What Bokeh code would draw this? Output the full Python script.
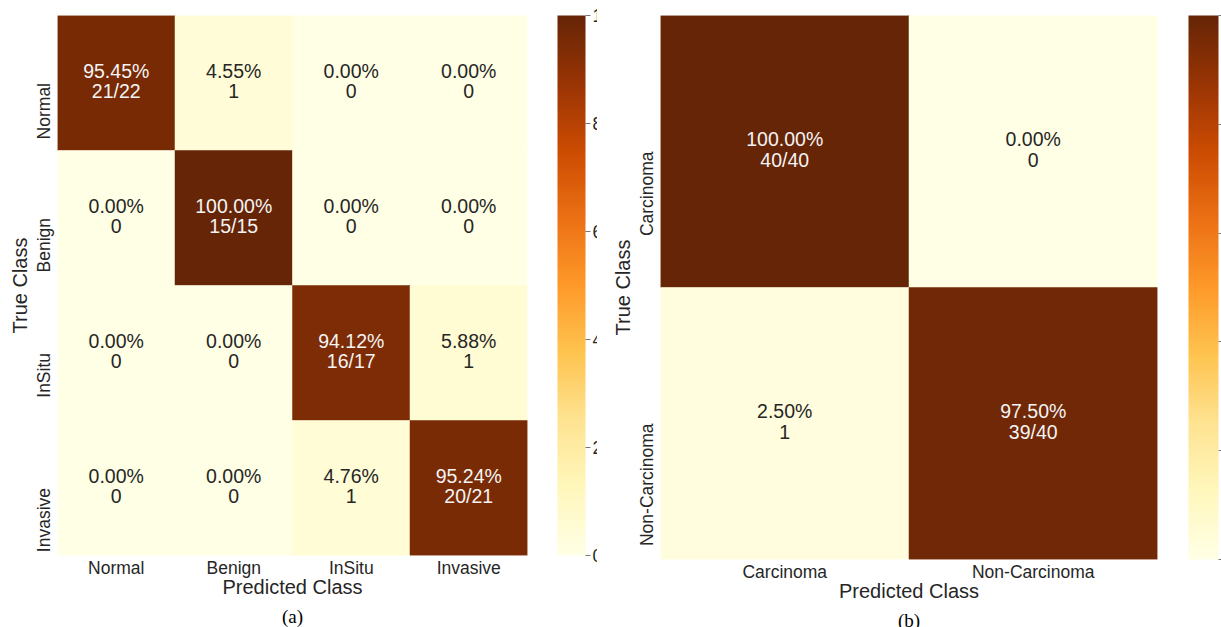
import numpy as np
from bokeh.plotting import figure
from bokeh.models import LinearColorMapper, ColorBar, FixedTicker, Title, ColumnDataSource
from bokeh.layouts import row
from bokeh.embed import file_html
from bokeh.resources import INLINE
from bokeh.core.properties import value

# (a) four-class confusion matrix: rows = true class, columns = predicted class
classes_a = ["Normal", "Benign", "InSitu", "Invasive"]
counts_a = [
    [21, 1, 0, 0],
    [0, 15, 0, 0],
    [0, 0, 16, 1],
    [0, 0, 1, 20],
]

# (b) two-class confusion matrix
classes_b = ["Carcinoma", "Non-Carcinoma"]
counts_b = [
    [40, 0],
    [1, 39],
]

# colour bar ticks (percent)
cbar_ticks = [0, 20, 40, 60, 80, 100]

# YlOrBr, light to dark
YLORBR = ["#ffffe5", "#fff7bc", "#fee391", "#fec44f", "#fe9929",
          "#ec7014", "#cc4c02", "#993404", "#662506"]


def ramp(colors, n=256):
    rgb = np.array([[int(c[k:k + 2], 16) for k in (1, 3, 5)] for c in colors], float)
    out = []
    for v in np.linspace(0, len(colors) - 1, n):
        i = min(int(v), len(colors) - 2)
        f = v - i
        c = rgb[i] * (1 - f) + rgb[i + 1] * f
        out.append("#%02x%02x%02x" % tuple(int(round(x)) for x in c))
    return out


PALETTE = ramp(YLORBR)
SANS = "Liberation Sans"
DARK = "#262626"


def confusion_panel(classes, counts, fw, fh, left, right, top, bottom,
                    cb_gap, cb_width, caption, cap_standoff):
    xs, ys, pct, labels, tcolors = [], [], [], [], []
    for i, true_cls in enumerate(classes):
        total = sum(counts[i])
        for j, pred_cls in enumerate(classes):
            c = counts[i][j]
            p = 100.0 * c / total
            xs.append(pred_cls)
            ys.append(true_cls)
            pct.append(p)
            if i == j:
                labels.append(f"{p:.2f}%\n{c}/{total}")
            else:
                labels.append(f"{p:.2f}%\n{c}")
            tcolors.append("#f4f4f4" if p > 50 else DARK)

    src = ColumnDataSource(dict(x=xs, y=ys, pct=pct, label=labels, tc=tcolors))
    mapper = LinearColorMapper(palette=PALETTE, low=0, high=100)

    p = figure(x_range=list(classes), y_range=list(reversed(classes)),
               frame_width=fw, frame_height=fh,
               min_border_left=left, min_border_right=right,
               min_border_top=top, min_border_bottom=bottom,
               output_backend="svg", toolbar_location=None,
               x_axis_label="Predicted Class", y_axis_label="True Class")

    p.rect(x="x", y="y", width=1, height=1, source=src,
           fill_color={"field": "pct", "transform": mapper},
           line_color={"field": "pct", "transform": mapper}, line_width=0.5)
    p.text(x="x", y="y", text="label", source=src, text_color="tc",
           text_align="center", text_baseline="middle", y_offset=-2,
           text_font=value(SANS), text_font_size="19.5px", text_line_height=0.95)

    p.grid.visible = False
    p.outline_line_color = None
    p.background_fill_color = "white"
    p.border_fill_color = "white"

    for ax in (p.xaxis[0], p.yaxis[0]):
        ax.axis_line_color = None
        ax.major_tick_line_color = None
        ax.minor_tick_line_color = None
        ax.major_label_text_font = SANS
        ax.major_label_text_font_size = "17.5px"
        ax.major_label_text_color = DARK
        ax.axis_label_text_font = SANS
        ax.axis_label_text_font_size = "20px"
        ax.axis_label_text_font_style = "normal"
        ax.axis_label_text_color = DARK
    p.yaxis.major_label_orientation = np.pi / 2
    p.yaxis.major_label_standoff = 8
    p.yaxis.axis_label_standoff = -10
    p.xaxis.major_label_standoff = -4
    p.xaxis.axis_label_standoff = -5

    cb = ColorBar(color_mapper=mapper, ticker=FixedTicker(ticks=cbar_ticks),
                  location=(fw + cb_gap, 0), width=cb_width, height=fh,
                  padding=0, margin=0, bar_line_color=None,
                  major_tick_out=5, major_tick_in=0,
                  major_tick_line_color="#777777", minor_tick_line_color=None,
                  major_label_text_font=SANS, major_label_text_font_size="17.5px",
                  major_label_text_color=DARK, label_standoff=2,
                  background_fill_alpha=0, border_line_color=None)
    p.add_layout(cb)

    p.add_layout(Title(text=caption, align="center", text_font="Liberation Serif",
                       text_font_size="19px", text_font_style="normal",
                       text_color="black", standoff=cap_standoff), "below")
    return p


p_a = confusion_panel(classes_a, counts_a, fw=470, fh=540, left=57, right=70,
                      top=15, bottom=72, cb_gap=30, cb_width=28,
                      caption="(a)", cap_standoff=7)
p_b = confusion_panel(classes_b, counts_b, fw=497, fh=544, left=63, right=64,
                      top=14, bottom=69, cb_gap=31, cb_width=30,
                      caption="(b)", cap_standoff=7)

layout = row(p_a, p_b)
open("out.html", "w").write(file_html(layout, INLINE))
